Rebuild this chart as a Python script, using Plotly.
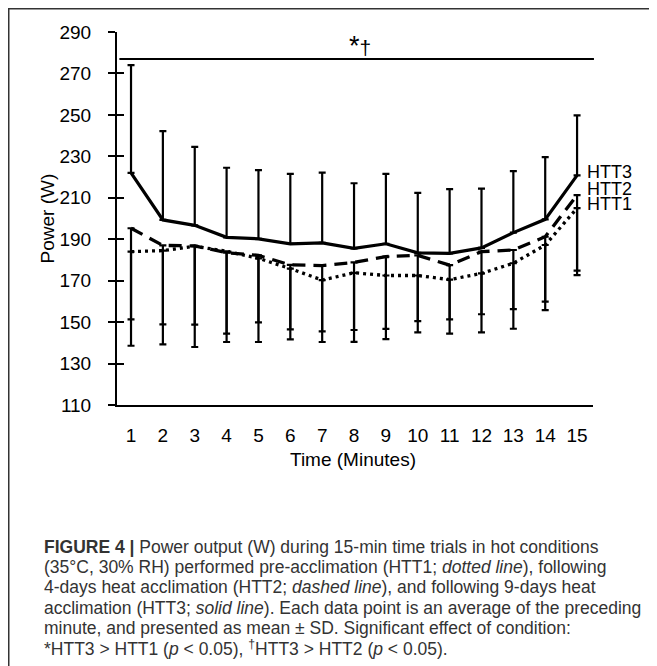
import plotly.graph_objects as go

# ---------------- data ----------------
minutes = list(range(1, 16))
tick_labels = [str(m) for m in minutes]

htt3_mean = [222.0, 199.3, 196.7, 190.9, 190.2, 187.8, 188.2, 185.6, 187.8, 183.4, 183.2, 185.8, 193.2, 199.6, 220.8]
htt3_sd   = [52.0, 42.9, 37.9, 33.6, 33.1, 33.7, 33.9, 31.4, 33.7, 29.0, 31.0, 28.6, 29.7, 30.0, 29.0]

htt2_mean = [195.3, 187.0, 186.8, 183.5, 182.2, 177.6, 177.3, 178.8, 181.6, 182.2, 177.5, 184.0, 184.8, 191.2, 211.3]
htt2_sd   = [44.0, 38.1, 38.0, 39.1, 32.3, 31.1, 31.8, 32.6, 34.9, 31.7, 26.2, 30.2, 28.5, 31.3, 36.5]

htt1_mean = [184.0, 184.5, 186.6, 184.2, 180.8, 175.8, 170.3, 173.8, 172.5, 172.5, 170.5, 173.5, 178.4, 187.2, 205.0]
htt1_sd   = [45.4, 45.2, 48.6, 43.8, 40.4, 34.1, 29.9, 33.3, 30.7, 27.5, 26.1, 28.5, 31.6, 31.4, 32.3]

series_names = ["HTT3", "HTT2", "HTT1"]
label_y = [222.4, 214.4, 206.8]
y_ticks = [110, 130, 150, 170, 190, 210, 230, 250, 270, 290]
sig_level = 277
sig_text = '<span style="font-size:27px">*</span>†'
sig_text_pos = (8.2, 283.4)

caption_lines = [
    "<b>FIGURE 4 |</b> Power output (W) during 15-min time trials in hot conditions",
    "(35°C, 30% RH) performed pre-acclimation (HTT1; <i>dotted line</i>), following",
    "4-days heat acclimation (HTT2; <i>dashed line</i>), and following 9-days heat",
    "acclimation (HTT3; <i>solid line</i>). Each data point is an average of the preceding",
    "minute, and presented as mean ± SD. Significant effect of condition:",
    "*HTT3 > HTT1 (<i>p</i> < 0.05), <sup>†</sup>HTT3 > HTT2 (<i>p</i> < 0.05).",
]

# ---------------- geometry (screen px; page has an 8px body margin) ----------------
OFF = 8
W, H = 657 - OFF, 666 - OFF
L, R, T, B = 117 - OFF, 64, 32 - OFF, 666 - 405
pw, ph = W - L - R, H - T - B


def px_x(sx):
    return (sx - OFF - L) / pw


def px_y(sy):
    return (H - B - (sy - OFF)) / ph


FONT = "Liberation Sans, Arial, Helvetica, sans-serif"
BLACK = "#000000"

fig = go.Figure()

fig.add_trace(go.Scatter(
    x=minutes, y=htt1_mean, mode="lines", name="HTT1",
    line=dict(color=BLACK, width=3.3, dash="3px,4px"),
    error_y=dict(type="data", symmetric=False, array=[0] * len(htt1_sd), arrayminus=htt1_sd,
                 color=BLACK, thickness=2.2, width=3.5),
))
fig.add_trace(go.Scatter(
    x=minutes, y=htt2_mean, mode="lines", name="HTT2",
    line=dict(color=BLACK, width=3.3, dash="13px,8px"),
    error_y=dict(type="data", symmetric=False, array=[0] * len(htt2_sd), arrayminus=htt2_sd,
                 color=BLACK, thickness=2.2, width=3.5),
))
fig.add_trace(go.Scatter(
    x=minutes, y=htt3_mean, mode="lines", name="HTT3",
    line=dict(color=BLACK, width=3.2),
    error_y=dict(type="data", symmetric=False, array=htt3_sd, arrayminus=[0] * len(htt3_sd),
                 color=BLACK, thickness=2.2, width=3.5),
))
fig.add_trace(go.Scatter(x=[None], y=[None], yaxis="y2", showlegend=False, hoverinfo="skip"))

annotations = []
for name, yy in zip(series_names, label_y):
    annotations.append(dict(x=15.25, y=yy, xref="x", yref="y", text=name, showarrow=False,
                            xanchor="left", yanchor="middle",
                            font=dict(family=FONT, size=18, color=BLACK)))
annotations.append(dict(x=sig_text_pos[0], y=sig_text_pos[1], xref="x", yref="y", text=sig_text,
                        showarrow=False, xanchor="center", yanchor="middle",
                        font=dict(family=FONT, size=21, color=BLACK)))
annotations.append(dict(x=px_x(47), y=0.5, xref="paper", yref="paper", text="Power (W)",
                        textangle=-90, showarrow=False, xanchor="center", yanchor="middle",
                        font=dict(family=FONT, size=19, color=BLACK)))
annotations.append(dict(x=px_x(353), y=px_y(460), xref="paper", yref="paper", text="Time (Minutes)",
                        showarrow=False, xanchor="center", yanchor="middle",
                        font=dict(family=FONT, size=19, color=BLACK)))
first_line, pitch = 547, 20.2
for i, line in enumerate(caption_lines):
    annotations.append(dict(x=px_x(42), y=px_y(first_line + i * pitch), xref="paper", yref="paper",
                            text=line, showarrow=False, xanchor="left", yanchor="middle",
                            align="left", font=dict(family=FONT, size=17.5, color="#333333")))

shapes = [
    dict(type="line", xref="x domain", yref="y", x0=0.005, x1=1.002, y0=sig_level, y1=sig_level,
         line=dict(color=BLACK, width=2)),
    dict(type="rect", xref="paper", yref="paper", x0=px_x(8.75), x1=px_x(680),
         y0=px_y(690), y1=px_y(8.75), line=dict(color="#333333", width=1.5), layer="below"),
]

fig.update_layout(
    width=W, height=H,
    margin=dict(l=L, r=R, t=T, b=B, pad=0),
    paper_bgcolor="white", plot_bgcolor="white",
    showlegend=False,
    font=dict(family=FONT, size=19, color=BLACK),
    xaxis=dict(range=[0.56, 15.5], tickvals=minutes, ticktext=tick_labels,
               showline=True, linecolor=BLACK, linewidth=1.6, ticks="", showgrid=False,
               zeroline=False, ticklabelstandoff=12, tickfont=dict(size=19)),
    yaxis=dict(range=[110, 290], tickvals=y_ticks, showline=True, linecolor=BLACK, linewidth=2,
               ticks="outside", ticklen=7, tickwidth=1.6, tickcolor=BLACK, showgrid=False,
               zeroline=False, ticklabelstandoff=13, tickfont=dict(size=19)),
    yaxis2=dict(range=[110, 290], tickvals=y_ticks, overlaying="y", side="left",
                showline=False, ticks="inside", ticklen=7, tickwidth=1.6, tickcolor=BLACK,
                showticklabels=False, showgrid=False, zeroline=False),
    annotations=annotations,
    shapes=shapes,
)

fig.write_html("out.html")
